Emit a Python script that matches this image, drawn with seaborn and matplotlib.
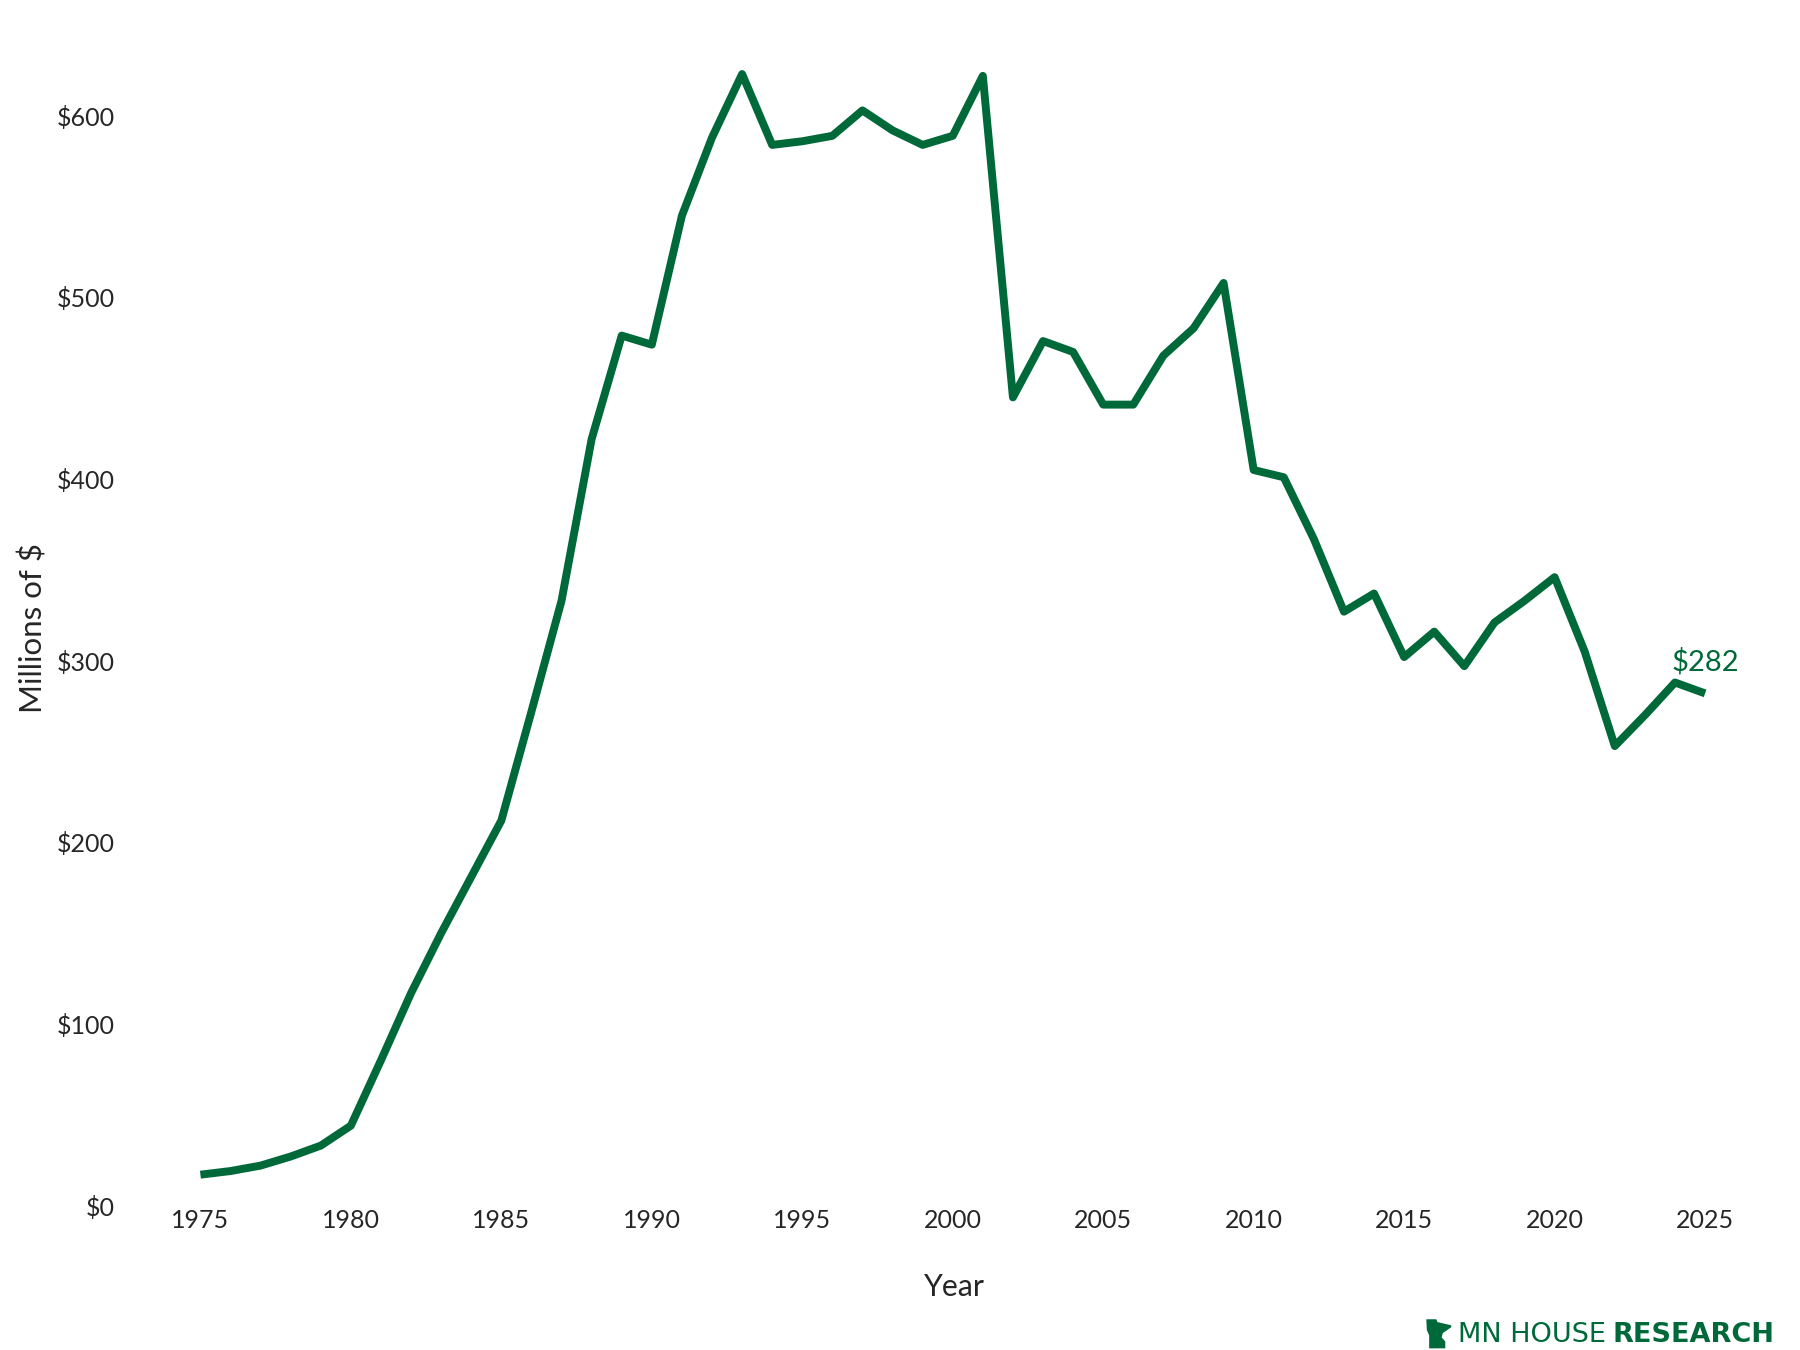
import pandas as pd
import matplotlib.pyplot as plt
import seaborn as sns
from matplotlib.patches import Polygon

years = list(range(1975, 2026))
millions = [17, 19, 22, 27, 33, 44, 80, 117, 150, 181,
            212, 272, 333, 422, 479, 474, 545, 588, 623, 584,
            586, 589, 603, 592, 584, 589, 622, 445, 476, 470,
            441, 441, 468, 483, 508, 405, 401, 367, 327, 337,
            302, 316, 297, 321, 333, 346, 305, 253, 270, 288,
            282]
y_ticks = [0, 100, 200, 300, 400, 500, 600]
x_ticks = list(range(1975, 2026, 5))

green = "#00693A"

df = pd.DataFrame({"Year": years, "Millions": millions})

sns.set_style("white")
plt.rcParams["font.family"] = ["Lato", "DejaVu Sans"]

fig = plt.figure(figsize=(12, 9), dpi=150)
ax = fig.add_axes([0.0779, 0.107, 0.9028, 0.861])

sns.lineplot(data=df, x="Year", y="Millions", color=green, linewidth=3.8, ax=ax)
ax.lines[0].set_solid_capstyle("butt")

ax.set_xlim(1973, 2027)
ax.set_ylim(0, 640)
ax.set_xticks(x_ticks)
ax.set_yticks(y_ticks)
ax.set_yticklabels([f"${v}" for v in y_ticks])
ax.tick_params(axis="y", length=0, pad=12, labelsize=12)
ax.tick_params(axis="x", length=0, pad=1.5, labelsize=12)
sns.despine(ax=ax, left=True, bottom=True)

ax.set_xlabel("Year", fontsize=14.5)
ax.set_ylabel("Millions of $", fontsize=15)
ax.xaxis.set_label_coords(0.501, -0.058)
ax.yaxis.set_label_coords(-0.057, 0.497)

ax.annotate(f"${millions[-1]}", xy=(years[-1], millions[-1]), xytext=(0, 15),
            textcoords="offset points", ha="center", va="center",
            color=green, fontsize=14)

# logo, bottom right: small state outline + text
shape = [(0.0, 1.0), (0.35, 1.0), (0.4, 0.9), (0.6, 0.86), (1.0, 0.78),
         (0.62, 0.55), (0.56, 0.36), (0.72, 0.2), (0.72, 0.0), (0.12, 0.0),
         (0.12, 0.45), (0.02, 0.65)]
x0, w, y0, h = 0.793, 0.013, 0.002, 0.02
icon = Polygon([(x0 + px * w, y0 + py * h) for px, py in shape], closed=True,
               transform=fig.transFigure, facecolor=green, edgecolor=green)
fig.patches.append(icon)

t_bold = fig.text(0.986, 0.006, "RESEARCH", ha="right", va="baseline",
                  color=green, fontsize=13, fontweight="bold", family="DejaVu Sans")
renderer = fig.canvas.get_renderer()
bb = t_bold.get_window_extent(renderer=renderer)
fig.text(bb.x0 / fig.bbox.width - 0.004, 0.006, "MN HOUSE", ha="right", va="baseline",
         color=green, fontsize=13, family="DejaVu Sans")

fig.savefig("out.png", dpi=150)
